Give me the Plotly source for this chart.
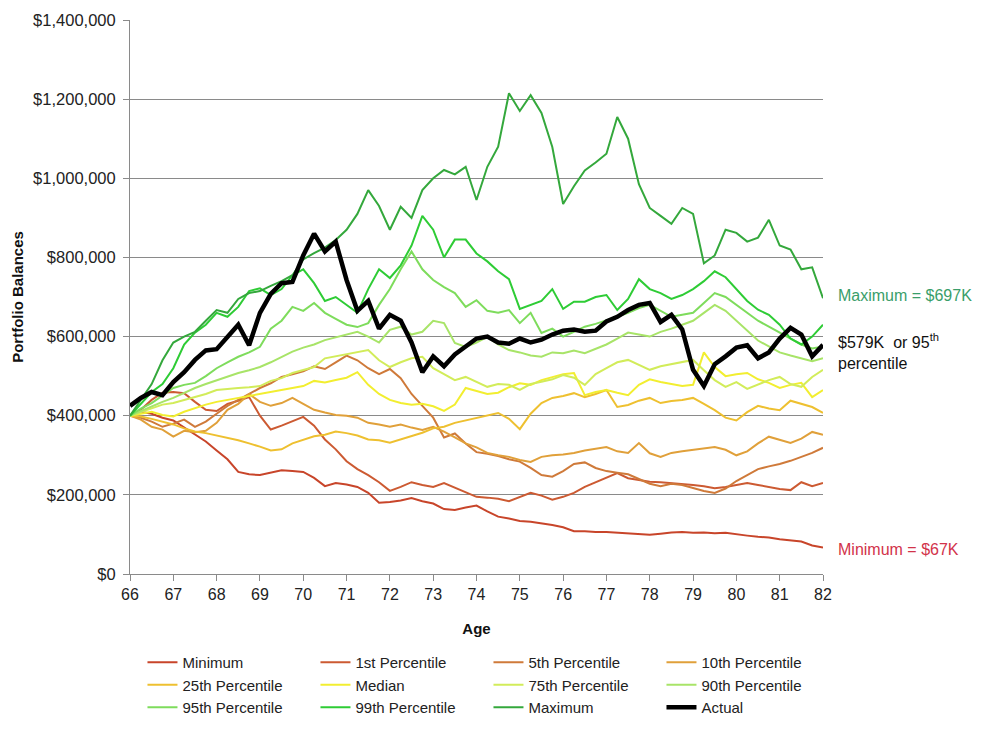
import plotly.graph_objects as go

AGES = [66 + q / 4 for q in range(65)]

MINIMUM = [400, 410, 405, 395, 388, 370, 352, 335, 312, 290, 258, 252, 250, 256, 262, 260,
           258, 243, 222, 230, 226, 220, 205, 180, 182, 186, 192, 184, 178, 164, 162, 168,
           173, 158, 145, 140, 134, 132, 128, 124, 118, 108, 108, 106, 106, 104, 102, 100,
           99, 102, 105, 106, 104, 105, 103, 104, 100, 97, 94, 92, 88, 85, 82, 72, 67]
P1 = [400, 415, 440, 458, 460, 457, 435, 415, 412, 430, 438, 447, 400, 365, 375, 385,
      397, 375, 340, 315, 285, 265, 250, 232, 210, 220, 232, 225, 220, 230, 218, 205,
      195, 193, 190, 184, 195, 205, 198, 188, 195, 205, 220, 232, 245, 255, 242, 238,
      233, 232, 230, 228, 225, 222, 217, 220, 225, 230, 225, 220, 215, 212, 232, 222, 230]
P5 = [400, 395, 385, 372, 380, 390, 372, 385, 405, 425, 440, 455, 470, 482, 498, 505,
      512, 525, 518, 535, 552, 540, 520, 505, 518, 495, 455, 425, 395, 345, 355, 330,
      308, 304, 298, 290, 284, 268, 250, 246, 260, 278, 282, 268, 260, 256, 252, 240,
      228, 222, 228, 225, 218, 210, 205, 216, 235, 250, 265, 272, 278, 286, 296, 306, 319]
P10 = [400, 390, 372, 365, 347, 362, 358, 362, 382, 415, 430, 455, 435, 425, 432, 445,
       430, 415, 408, 402, 400, 395, 382, 378, 372, 378, 370, 364, 372, 360, 345, 330,
       320, 306, 300, 296, 288, 283, 296, 300, 302, 306, 312, 316, 321, 310, 306, 331,
       305, 296, 306, 310, 314, 318, 321, 314, 300, 310, 330, 347, 339, 331, 342, 359, 352]
P25 = [400, 398, 392, 385, 378, 368, 360, 356, 350, 345, 338, 330, 322, 312, 315, 330,
       340, 348, 352, 360, 356, 350, 340, 338, 332, 340, 348, 357, 368, 372, 382, 388,
       395, 400, 407, 392, 366, 405, 432, 445, 450, 457, 447, 455, 465, 422, 427, 438,
       445, 432, 437, 440, 445, 430, 414, 395, 388, 409, 425, 418, 414, 438, 430, 422, 407]
MEDIAN = [400, 405, 410, 402, 398, 410, 420, 428, 435, 440, 445, 450, 455, 460, 465, 470,
          475, 488, 484, 490, 496, 510, 478, 455, 440, 432, 428, 430, 424, 412, 428, 470,
          462, 455, 458, 472, 482, 478, 490, 498, 505, 508, 452, 460, 465, 458, 452, 478,
          492, 485, 480, 475, 478, 560, 523, 500, 505, 508, 492, 483, 470, 478, 483, 447, 465]
P75 = [400, 410, 420, 428, 432, 440, 446, 455, 465, 468, 470, 472, 475, 488, 495, 508,
       515, 523, 545, 550, 556, 560, 566, 540, 523, 535, 545, 549, 520, 505, 490, 498,
       485, 473, 480, 478, 465, 480, 486, 492, 503, 496, 478, 505, 520, 535, 541, 528,
       516, 525, 530, 535, 541, 515, 490, 473, 485, 468, 480, 490, 498, 480, 473, 498, 516]
P90 = [400, 412, 422, 435, 445, 458, 470, 480, 490, 498, 508, 515, 523, 535, 549, 562,
       572, 580, 591, 598, 605, 612, 600, 585, 617, 625, 605, 612, 640, 634, 584, 574,
       585, 599, 580, 566, 560, 552, 549, 560, 558, 565, 558, 570, 580, 595, 610, 605,
       600, 612, 620, 630, 640, 660, 680, 665, 640, 615, 590, 575, 560, 552, 545, 538, 545]
P95 = [400, 418, 432, 452, 470, 478, 483, 500, 520, 535, 549, 560, 574, 620, 640, 675,
       665, 685, 660, 645, 630, 624, 634, 680, 720, 770, 815, 770, 743, 725, 710, 675,
       692, 665, 660, 667, 634, 660, 609, 620, 600, 612, 625, 632, 640, 650, 660, 672,
       680, 665, 650, 655, 660, 685, 710, 700, 680, 660, 640, 625, 610, 595, 580, 570, 575]
P99 = [400, 430, 460, 480, 520, 580, 610, 630, 660, 650, 675, 715, 722, 705, 720, 755,
       770, 735, 690, 700, 680, 660, 720, 770, 748, 780, 830, 905, 870, 800, 845, 845,
       810, 790, 765, 745, 670, 680, 690, 720, 670, 688, 688, 700, 705, 667, 695, 745,
       720, 710, 695, 705, 720, 740, 765, 750, 720, 690, 668, 655, 630, 595, 580, 600, 630]
MAXIMUM = [400, 440, 480, 540, 585, 600, 612, 640, 667, 660, 695, 710, 715, 728, 740, 755,
           795, 811, 825, 844, 870, 910, 970, 930, 870, 928, 900, 970, 1000, 1021, 1010, 1029,
           945, 1029, 1080, 1215, 1170, 1210, 1165, 1079, 935, 980, 1020, 1040, 1062, 1155, 1100, 985,
           925, 905, 885, 925, 910, 785, 805, 870, 862, 840, 850, 895, 830, 820, 770, 775, 697]
ACTUAL = [425, 445, 460, 452, 485, 510, 541, 565, 568, 600, 630, 578, 660, 708, 735, 738,
          805, 860, 815, 840, 743, 665, 690, 620, 655, 640, 585, 510, 550, 525, 555, 575,
          595, 600, 585, 582, 595, 585, 592, 605, 615, 618, 612, 615, 638, 650, 667, 680,
          685, 637, 655, 618, 516, 475, 530, 550, 572, 578, 545, 560, 595, 622, 605, 550, 579]

SERIES = [
    ("Minimum", MINIMUM, "#c8452a", 2),
    ("1st Percentile", P1, "#cc5a32", 2),
    ("5th Percentile", P5, "#cf7a3a", 2),
    ("10th Percentile", P10, "#e0a03a", 2),
    ("25th Percentile", P25, "#eec030", 2),
    ("Median", MEDIAN, "#f2ee30", 2),
    ("75th Percentile", P75, "#d2ec5a", 2),
    ("90th Percentile", P90, "#a8e468", 2),
    ("95th Percentile", P95, "#7edc5c", 2),
    ("99th Percentile", P99, "#2ecc35", 2),
    ("Maximum", MAXIMUM, "#34a83c", 2),
    ("Actual", ACTUAL, "#000000", 4.5),
]

FONT = "Liberation Sans, Arial, sans-serif"

fig = go.Figure()
for name, vals, color, w in SERIES:
    fig.add_trace(go.Scatter(
        x=AGES, y=[v * 1000 for v in vals], name=name, mode="lines",
        line=dict(color=color, width=w),
    ))

# page body has an 8px margin, so the plot box is offset to land at x 130..823, y 20..574
fig.update_layout(
    width=990, height=731,
    margin=dict(l=122, r=175, t=12, b=165, autoexpand=False),
    paper_bgcolor="white", plot_bgcolor="white",
    font=dict(family=FONT, size=15, color="#222"),
    showlegend=True,
    legend=dict(orientation="h", x=0.018, xanchor="left", y=-0.13, yanchor="top",
                entrywidth=128, font=dict(size=15, color="#222"),
                tracegroupgap=0, itemwidth=30),
    xaxis=dict(range=[66, 82], tickmode="linear", tick0=66, dtick=1, automargin=False,
               showgrid=False, zeroline=False, showline=True, linecolor="#8a8a8a",
               ticks="outside", ticklen=6, tickcolor="#8a8a8a",
               tickfont=dict(size=16, color="#222"),
               title=dict(text="<b>Age</b>", font=dict(size=15, color="#111"), standoff=21)),
    yaxis=dict(range=[0, 1400000], tickmode="linear", tick0=0, dtick=200000,
               tickprefix="$", tickformat=",d", automargin=False,
               showgrid=True, gridcolor="#8a8a8a", gridwidth=1, zeroline=False,
               showline=True, linecolor="#8a8a8a", ticks="outside", ticklen=6,
               tickcolor="#8a8a8a", tickfont=dict(size=16.5, color="#222"),
               ticklabelstandoff=4,
               title=dict(text="<b>Portfolio Balances</b>", font=dict(size=15, color="#111"),
                          standoff=5)),
)

fig.add_annotation(x=1.019, xref="paper", y=705000, yref="y", xanchor="left",
                   text="Maximum = $697K", showarrow=False,
                   font=dict(size=16, color="#3a9e6a", family=FONT))
fig.add_annotation(x=1.019, xref="paper", y=563000, yref="y", xanchor="left", align="left",
                   text="$579K  or 95<sup>th</sup><br>percentile", showarrow=False,
                   font=dict(size=16, color="#111", family=FONT))
fig.add_annotation(x=1.019, xref="paper", y=63000, yref="y", xanchor="left",
                   text="Minimum = $67K", showarrow=False,
                   font=dict(size=16, color="#d2334a", family=FONT))

fig.write_html("out.html")
